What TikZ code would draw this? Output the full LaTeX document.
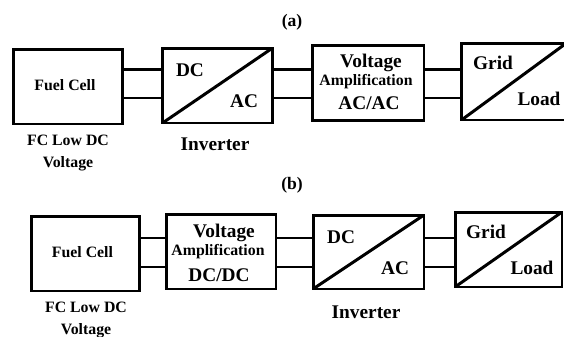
\documentclass[tikz,border=0pt]{standalone}
\usepackage{fontspec}
\setmainfont{Liberation Serif}
\usetikzlibrary{positioning}

\begin{document}
\begin{tikzpicture}[
  x=0.02cm, y=-0.02cm,
  blockbox/.style={draw,line width=1.7pt,inner sep=0pt,minimum width=2.2cm,minimum height=1.5cm},
  convbox/.style={blockbox,path picture={\draw[line width=1.7pt] (path picture bounding box.south west) -- (path picture bounding box.north east);}},
  link/.style={line width=1.5pt},
  boxtext/.style={font=\fontsize{11}{12}\selectfont\bfseries,inner sep=0pt},
  smalltext/.style={font=\fontsize{9}{10}\selectfont\bfseries,inner sep=0pt},
  captext/.style={font=\fontsize{9}{10}\selectfont\bfseries,align=center,inner sep=0pt},
  panellabel/.style={font=\fontsize{10}{11}\selectfont\bfseries,inner sep=0pt},
]
\useasboundingbox (0,0) rectangle (564,336);

% (a) inverter first, then AC/AC amplification
\node[panellabel] (laba) at (292,22) {(a)};
\node[blockbox] (fc1) at (68,86.5) {};
\node[convbox] (inv1) at (217.5,85.5) {};
\node[blockbox,minimum width=2.24cm] (amp1) at (368,83) {};
\node[convbox,minimum width=2.1cm,minimum height=1.54cm] (load1) at (514,81.5) {};

\node[smalltext] (fctxt1) at (65,85) {Fuel Cell};
\node[captext] (fccap1) at (68,153) {FC Low DC\\[2pt]Voltage};
\node[boxtext] (dc1) at (190,70) {DC};
\node[boxtext] (ac1) at (244,101) {AC};
\node[boxtext] (invcap1) at (215,144) {Inverter};
\node[boxtext] (volt1) at (371,63) {Voltage};
\node[smalltext] (ampl1) at (366,82) {Amplification};
\node[boxtext] (acac1) at (369,103) {AC/AC};
\node[boxtext] (grid1) at (493,63) {Grid};
\node[boxtext] (ld1) at (539,99) {Load};

\coordinate (rowa1) at (0,69.5);
\coordinate (rowa2) at (0,98);
\foreach \u/\v in {fc1/inv1,inv1/amp1,amp1/load1}{
  \draw[link] (\u.east |- rowa1) -- (\v.west |- rowa1);
  \draw[link] (\u.east |- rowa2) -- (\v.west |- rowa2);
}

% (b) DC/DC amplification first, then inverter
\node[panellabel] (labb) at (292,185) {(b)};
\node[blockbox,minimum width=2.18cm] (fc2) at (85.5,253.5) {};
\node[blockbox] (amp2) at (221,251.5) {};
\node[convbox,minimum width=2.22cm,minimum height=1.48cm] (inv2) at (368.5,252) {};
\node[convbox,minimum width=2.14cm] (load2) at (508.5,249.5) {};

\node[smalltext] (fctxt2) at (82.5,252) {Fuel Cell};
\node[captext] (fccap2) at (86,320) {FC Low DC\\[2pt]Voltage};
\node[boxtext] (volt2) at (224,233) {Voltage};
\node[smalltext] (ampl2) at (218,252) {Amplification};
\node[boxtext] (dcdc2) at (219,275) {DC/DC};
\node[boxtext] (dc2) at (341,237) {DC};
\node[boxtext] (ac2) at (395,268) {AC};
\node[boxtext] (invcap2) at (366,312) {Inverter};
\node[boxtext] (grid2) at (486,232) {Grid};
\node[boxtext] (ld2) at (532,268) {Load};

\coordinate (rowb1) at (0,238);
\coordinate (rowb2) at (0,267);
\foreach \u/\v in {fc2/amp2,amp2/inv2,inv2/load2}{
  \draw[link] (\u.east |- rowb1) -- (\v.west |- rowb1);
  \draw[link] (\u.east |- rowb2) -- (\v.west |- rowb2);
}

\end{tikzpicture}
\end{document}
